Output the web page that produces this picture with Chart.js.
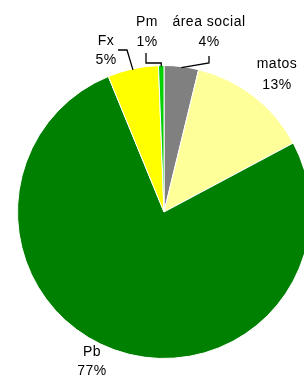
<!DOCTYPE html>
<html>
<head>
<meta charset="utf-8">
<script src="https://cdn.jsdelivr.net/npm/chart.js@4/dist/chart.umd.min.js"></script>
<style>
  html, body { margin: 0; padding: 0; background: #fff; overflow: hidden; width: 304px; height: 376px; }
  #wrap { position: absolute; left: 0; top: 0; width: 328px; height: 376px; }
</style>
</head>
<body>
<div id="wrap"><canvas id="c" width="328" height="376"></canvas></div>
<script>
// Data
const categories = ['área social', 'matos', 'Pb', 'Fx', 'Pm'];
const values = [3.8, 13.4, 76.6, 5.6, 0.6];
const percentLabels = ['4%', '13%', '77%', '5%', '1%'];
const colors = ['#808080', '#FFFF99', '#008000', '#FFFF00', '#00D000'];

// Label layout (text centre positions, leader lines)
const labelLayout = {
  'área social': { x: 209, y1: 22, y2: 42, leader: [[209, 56], [209, 63]] },
  'matos':       { x: 277, y1: 64, y2: 85, leader: null },
  'Pb':          { x: 92,  y1: 352, y2: 371, leader: null },
  'Fx':          { x: 106, y1: 41, y2: 60, leader: [[118, 50], [127, 50]] },
  'Pm':          { x: 147, y1: 22, y2: 42, leader: [[146, 53], [146, 63]] }
};

const labelPlugin = {
  id: 'pieLabels',
  afterDatasetsDraw(chart) {
    const ctx = chart.ctx;
    const meta = chart.getDatasetMeta(0);
    ctx.save();
    ctx.font = '14px "Liberation Sans", Arial, sans-serif';
    if ('letterSpacing' in ctx) ctx.letterSpacing = '0.5px';
    ctx.fillStyle = '#000';
    ctx.textAlign = 'center';
    ctx.textBaseline = 'middle';
    meta.data.forEach((arc, i) => {
      const name = categories[i];
      const L = labelLayout[name];
      const p = arc.getProps(['x', 'y', 'startAngle', 'endAngle', 'outerRadius'], true);
      const mid = (p.startAngle + p.endAngle) / 2;
      const ax = p.x + Math.cos(mid) * p.outerRadius;
      const ay = p.y + Math.sin(mid) * p.outerRadius;
      if (L.leader) {
        ctx.beginPath();
        ctx.strokeStyle = '#000';
        ctx.lineWidth = 1.3;
        ctx.moveTo(L.leader[0][0], L.leader[0][1]);
        for (let k = 1; k < L.leader.length; k++) ctx.lineTo(L.leader[k][0], L.leader[k][1]);
        if (name === 'Pm') ctx.lineTo(ax, L.leader[L.leader.length - 1][1]);
        ctx.lineTo(ax, ay + 1);
        ctx.stroke();
      }
      ctx.fillText(name, L.x, L.y1);
      ctx.fillText(percentLabels[i], L.x, L.y2);
    });
    ctx.restore();
  }
};

new Chart(document.getElementById('c'), {
  type: 'pie',
  data: {
    labels: categories,
    datasets: [{
      data: values,
      backgroundColor: colors,
      borderColor: '#ffffff',
      borderWidth: 1
    }]
  },
  options: {
    responsive: false,
    animation: false,
    layout: { padding: { left: 17, right: 17, top: 65, bottom: 17 } },
    plugins: { legend: { display: false }, tooltip: { enabled: false } }
  },
  plugins: [labelPlugin]
});
</script>
</body>
</html>
